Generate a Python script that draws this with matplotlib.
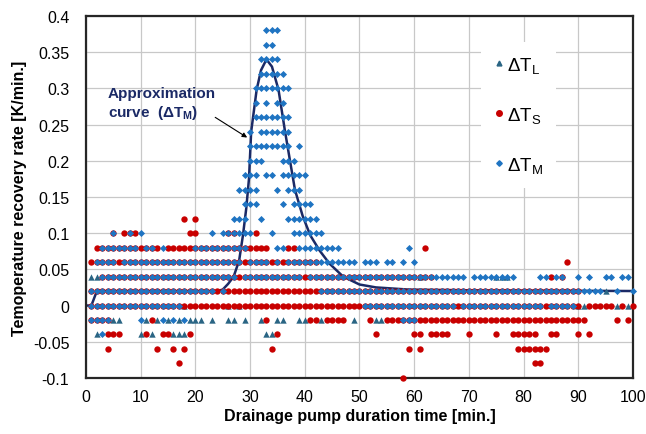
import matplotlib.pyplot as plt
from matplotlib.lines import Line2D

plt.rcParams['font.family'] = ['Liberation Sans', 'DejaVu Sans']
plt.rcParams['mathtext.default'] = 'regular'

# runs of whole minutes: (rate, first minute, last minute)
dtL_runs = [
    (0.04, 1, 2), (0.04, 61, 61), (0.04, 75, 77),
    (0.02, 95, 95),
    (0.00, 18, 18), (0.00, 26, 26), (0.00, 28, 28), (0.00, 90, 91), (0.00, 97, 97), (0.00, 99, 99),
    (-0.02, 5, 6), (-0.02, 11, 11), (-0.02, 13, 13), (-0.02, 15, 15), (-0.02, 17, 17),
    (-0.02, 19, 21), (-0.02, 23, 23), (-0.02, 26, 27), (-0.02, 29, 29), (-0.02, 32, 32),
    (-0.02, 35, 36), (-0.02, 39, 40), (-0.02, 43, 43), (-0.02, 49, 49), (-0.02, 53, 54),
    (-0.04, 2, 2), (-0.04, 10, 10), (-0.04, 12, 12), (-0.04, 16, 18), (-0.04, 33, 34),
]

dtS_runs = [
    (0.12, 18, 18), (0.12, 20, 20),
    (0.10, 5, 5), (0.10, 7, 9), (0.10, 19, 20), (0.10, 26, 27), (0.10, 31, 31),
    (0.08, 2, 13), (0.08, 15, 33), (0.08, 37, 38), (0.08, 62, 62),
    (0.06, 1, 42), (0.06, 88, 88),
    (0.04, 3, 63), (0.04, 85, 85), (0.04, 87, 87),
    (0.02, 1, 90),
    (0.00, 1, 90), (0.00, 92, 96), (0.00, 98, 98), (0.00, 100, 100),
    (-0.02, 1, 4), (-0.02, 12, 12), (-0.02, 33, 33), (-0.02, 41, 42), (-0.02, 44, 47),
    (-0.02, 52, 52), (-0.02, 55, 91), (-0.02, 97, 97), (-0.02, 99, 99),
    (-0.04, 4, 6), (-0.04, 11, 11), (-0.04, 14, 15), (-0.04, 19, 19), (-0.04, 35, 35),
    (-0.04, 53, 53), (-0.04, 60, 61), (-0.04, 63, 66), (-0.04, 70, 70), (-0.04, 75, 75),
    (-0.04, 78, 82), (-0.04, 85, 86), (-0.04, 90, 90), (-0.04, 92, 92),
    (-0.06, 4, 4), (-0.06, 13, 13), (-0.06, 16, 16), (-0.06, 18, 18), (-0.06, 34, 34),
    (-0.06, 59, 59), (-0.06, 61, 61), (-0.06, 79, 84),
    (-0.08, 17, 17), (-0.08, 82, 83),
    (-0.10, 58, 58),
]

dtM_runs = [
    (0.38, 33, 35), (0.36, 33, 34), (0.34, 32, 35), (0.32, 32, 36), (0.30, 31, 37),
    (0.28, 31, 31), (0.28, 33, 33), (0.28, 35, 36),
    (0.26, 31, 37),
    (0.24, 30, 30), (0.24, 32, 37),
    (0.22, 30, 37), (0.22, 39, 39),
    (0.20, 30, 32), (0.20, 36, 38),
    (0.18, 29, 31), (0.18, 33, 34), (0.18, 36, 40),
    (0.16, 28, 31), (0.16, 35, 35), (0.16, 37, 39),
    (0.14, 29, 31), (0.14, 36, 36), (0.14, 38, 41),
    (0.12, 27, 29), (0.12, 32, 32), (0.12, 37, 42),
    (0.10, 5, 5), (0.10, 8, 8), (0.10, 10, 10), (0.10, 23, 23), (0.10, 25, 30),
    (0.10, 34, 34), (0.10, 38, 43),
    (0.08, 3, 9), (0.08, 11, 12), (0.08, 14, 14), (0.08, 20, 29), (0.08, 35, 36),
    (0.08, 39, 46), (0.08, 59, 59),
    (0.06, 2, 5), (0.06, 7, 28), (0.06, 30, 33), (0.06, 35, 35), (0.06, 37, 49),
    (0.06, 51, 53), (0.06, 55, 56), (0.06, 58, 58), (0.06, 60, 60),
    (0.04, 3, 27), (0.04, 29, 39), (0.04, 41, 69), (0.04, 71, 78), (0.04, 83, 84),
    (0.04, 86, 87), (0.04, 90, 90), (0.04, 92, 92), (0.04, 95, 96), (0.04, 98, 99),
    (0.02, 1, 23), (0.02, 25, 25), (0.02, 43, 94), (0.02, 97, 97), (0.02, 100, 100),
    (0.00, 1, 17), (0.00, 51, 67), (0.00, 69, 83), (0.00, 85, 89),
    (-0.02, 1, 4), (-0.02, 10, 10), (-0.02, 14, 14), (-0.02, 16, 16), (-0.02, 18, 18),
    (-0.02, 58, 60),
    (-0.04, 3, 3),
]

# approximation curve, points
curve_x = [0, 1, 2, 24, 25, 26, 27, 28, 28.7, 29.3, 29.8, 30.2, 31.2, 32, 33, 34, 35.2,
           36.4, 37.3, 38.2, 39.6, 41, 42.7, 44.5, 47, 50, 53, 59, 70, 100]
curve_y = [0.0, 0.0, 0.02, 0.02, 0.022, 0.03, 0.04, 0.062, 0.097, 0.134, 0.175, 0.24,
           0.298, 0.325, 0.34, 0.33, 0.298, 0.24, 0.2, 0.16, 0.124, 0.097, 0.076, 0.058,
           0.04, 0.029, 0.025, 0.022, 0.021, 0.02]

yticks = [0.4, 0.35, 0.3, 0.25, 0.2, 0.15, 0.1, 0.05, 0, -0.05, -0.1]
ytick_labels = ['0.4', '0.35', '0.3', '0.25', '0.2', '0.15', '0.1', '0.05', '0', '-0.05', '-0.1']
xticks = [0, 10, 20, 30, 40, 50, 60, 70, 80, 90, 100]

cL = '#2A6584'
cS = '#C80000'
cM = '#1F74C2'
cCurve = '#1B2A66'


def expand(runs):
    xs, ys = [], []
    for y, a, b in runs:
        for x in range(a, b + 1):
            xs.append(x)
            ys.append(y)
    return xs, ys


fig = plt.figure(figsize=(6.46, 4.35), dpi=100)
ax = fig.add_axes([0.133, 0.129, 0.847, 0.832])

ax.plot(curve_x, curve_y, color=cCurve, lw=1.8, zorder=2)

xL, yL = expand(dtL_runs)
xS, yS = expand(dtS_runs)
xM, yM = expand(dtM_runs)
ax.scatter(xL, yL, marker='^', s=21, color=cL, linewidths=0, zorder=3, clip_on=False)
ax.scatter(xS, yS, marker='o', s=21, color=cS, linewidths=0, zorder=4, clip_on=False)
ax.scatter(xM, yM, marker='D', s=13, color=cM, linewidths=0, zorder=5, clip_on=False)

ax.set_xlim(0, 100)
ax.set_ylim(-0.1, 0.4)
ax.set_xticks(xticks)
ax.set_yticks(yticks)
ax.set_yticklabels(ytick_labels)
ax.tick_params(length=0, labelsize=11.5)
ax.tick_params(axis='y', pad=12)
ax.tick_params(axis='x', pad=8)
ax.grid(True, color='#C8C8C8', lw=0.9)
ax.set_axisbelow(True)
for sp in ax.spines.values():
    sp.set_color('#262626')
    sp.set_linewidth(1.6)

ax.set_xlabel('Drainage pump duration time [min.]', fontsize=11.5, fontweight='bold', labelpad=3)
ax.set_ylabel('Temoperature recovery rate [K/min.]', fontsize=11.5, fontweight='bold', labelpad=4)

ax.text(4, 0.279, 'Approximation\ncurve  (ΔT$_M$)', fontsize=11, fontweight='bold',
        color=cCurve, va='center', ha='left', linespacing=1.25)
ax.annotate('', xy=(29.9, 0.230), xytext=(23.2, 0.262),
            arrowprops=dict(arrowstyle='-|>', color='black', lw=0.8, mutation_scale=7))

handles = [
    Line2D([], [], marker='^', ls='none', color=cL, markersize=3.5),
    Line2D([], [], marker='o', ls='none', color=cS, markersize=4),
    Line2D([], [], marker='D', ls='none', color=cM, markersize=2.8),
]
labels = ['ΔT$_L$', 'ΔT$_S$', 'ΔT$_M$']
leg = ax.legend(handles, labels, loc='upper left', bbox_to_anchor=(0.705, 0.955),
                fontsize=13.5, frameon=True, framealpha=1, edgecolor='none',
                facecolor='white', fancybox=False, handlelength=0.5, handletextpad=0.2,
                labelspacing=1.6, borderpad=0.7)
leg.set_zorder(6)

fig.savefig('out.png', dpi=100)
